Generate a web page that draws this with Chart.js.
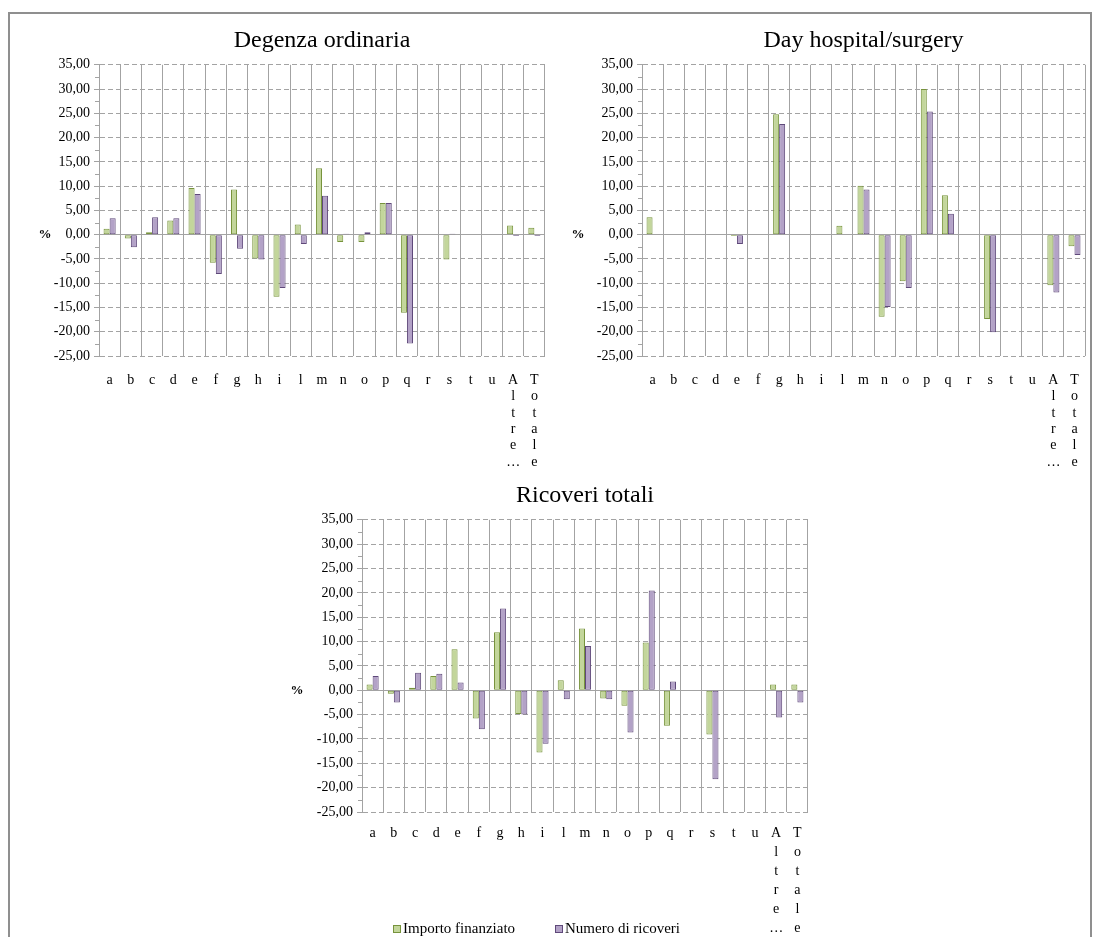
<!DOCTYPE html>
<html>
<head>
<meta charset="utf-8">
<script src="https://cdn.jsdelivr.net/npm/chart.js@4.4.0/dist/chart.umd.min.js"></script>
<style>
  html, body { margin: 0; padding: 0; background: #fff; overflow: hidden; }
  #page { position: relative; width: 1095px; height: 937px; }
  #frame { position: absolute; left: 8px; top: 12px; width: 1084px; height: 960px;
           border: 2px solid #8f8f8f; box-sizing: border-box; }
  canvas { position: absolute; left: 0; }
</style>
</head>
<body>
<div id="page">
  <div id="frame"></div>
  <canvas id="chartDegenza" width="1095" height="478" style="top:0"></canvas>
  <canvas id="chartDay" width="1095" height="478" style="top:0"></canvas>
  <canvas id="chartTotali" width="1095" height="480" style="top:470px"></canvas>
</div>
<script>
// categories (last two are written letter by letter, as in the original)
const categories = ['a', 'b', 'c', 'd', 'e', 'f', 'g', 'h', 'i', 'l', 'm', 'n', 'o', 'p', 'q', 'r', 's', 't', 'u',
  ['A', 'l', 't', 'r', 'e', '…'], ['T', 'o', 't', 'a', 'l', 'e']];

const seriesNames = ['Importo finanziato', 'Numero di ricoveri'];

// Degenza ordinaria
const degenzaImporto = [1.2, -0.8, 0.5, 2.9, 9.6, -5.8, 9.3, -4.9, -12.8, 2.1, 13.7, -1.5, -1.5, 6.5, -16.1, null, -5.1, null, null, 1.9, 1.4];
const degenzaNumero = [3.4, -2.6, 3.6, 3.4, 8.4, -8.1, -2.9, -5.1, -11.0, -1.9, 8.0, 0.2, 0.5, 6.5, -22.4, null, 0.2, null, null, -0.3, -0.3];

// Day hospital/surgery
const dayImporto = [3.6, null, null, null, -0.3, null, 24.8, null, null, 1.85, 10.1, -16.9, -9.6, 30.0, 8.1, null, -17.4, null, null, -10.4, -2.4];
const dayNumero = [null, null, null, null, -1.9, null, 22.8, null, null, null, 9.3, -14.9, -11.0, 25.4, 4.3, null, -20.1, null, null, -11.9, -4.2];

// Ricoveri totali
const totaliImporto = [1.2, -0.7, 0.5, 2.95, 8.4, -5.8, 11.9, -4.9, -12.8, 2.05, 12.7, -1.7, -3.2, 9.8, -7.3, null, -9.1, null, null, 1.2, 1.2];
const totaliNumero = [2.95, -2.5, 3.6, 3.4, 1.6, -8.0, 16.8, -5.0, -11.0, -1.85, 9.1, -1.85, -8.7, 20.5, 1.8, null, -18.3, null, null, -5.6, -2.5];

const yMin = -25;
const yMax = 35;
const yStep = 5;

const GRID = '#a3a3a3';
const SERIF = '"Liberation Serif", "Times New Roman", serif';
const GREEN = { fill: '#c3d69b', line: '#77933c' };
const PURPLE = { fill: '#b3a2c7', line: '#5f497a' };

Chart.defaults.font.family = SERIF;
Chart.defaults.font.size = 14;
Chart.defaults.color = '#000';

// "%" written horizontally next to the zero of the y axis
const percentLabel = {
  id: 'percentLabel',
  afterDraw(chart, args, opts) {
    const { ctx } = chart;
    const y = chart.scales.y;
    ctx.save();
    ctx.font = 'bold 13px ' + SERIF;
    ctx.fillStyle = '#000';
    ctx.textAlign = 'center';
    ctx.textBaseline = 'middle';
    ctx.fillText('%', opts.x, y.getPixelForValue(0));
    ctx.restore();
  }
};

// small minor ticks half way between the major ones
const minorTicks = {
  id: 'minorTicks',
  afterDraw(chart) {
    const { ctx, chartArea } = chart;
    const y = chart.scales.y;
    ctx.save();
    ctx.strokeStyle = GRID;
    ctx.lineWidth = 1;
    ctx.beginPath();
    for (let v = yMin + yStep / 2; v < yMax; v += yStep) {
      const py = Math.round(y.getPixelForValue(v)) + 0.5;
      ctx.moveTo(chartArea.left - 4, py);
      ctx.lineTo(chartArea.left, py);
    }
    ctx.stroke();
    ctx.restore();
  }
};

// legend of the bottom panel, which sits over the long x labels like in the original
const looseLegend = {
  id: 'looseLegend',
  afterDraw(chart, args, opts) {
    if (!opts.show) return;
    const { ctx } = chart;
    ctx.save();
    ctx.font = '15px ' + SERIF;
    ctx.textAlign = 'left';
    ctx.textBaseline = 'middle';
    chart.data.datasets.forEach((ds, i) => {
      const x = opts.x[i];
      const y = opts.y;
      ctx.fillStyle = ds.backgroundColor;
      ctx.fillRect(x, y - 4, 8, 8);
      ctx.strokeStyle = ds.borderColor;
      ctx.lineWidth = 1;
      ctx.strokeRect(x + 0.5, y - 3.5, 7, 7);
      ctx.fillStyle = '#000';
      ctx.fillText(ds.label, x + 10, y);
    });
    ctx.restore();
  }
};

function buildChart(canvasId, title, importo, numero, lay) {
  const ctx = document.getElementById(canvasId);
  return new Chart(ctx.getContext('2d'), {
    type: 'bar',
    data: {
      labels: categories,
      datasets: [
        {
          label: seriesNames[0],
          data: importo,
          backgroundColor: GREEN.fill,
          borderColor: GREEN.line,
          borderWidth: 1,
          borderSkipped: false,
          categoryPercentage: 0.57,
          barPercentage: 1.0,
        },
        {
          label: seriesNames[1],
          data: numero,
          backgroundColor: PURPLE.fill,
          borderColor: PURPLE.line,
          borderWidth: 1,
          borderSkipped: false,
          categoryPercentage: 0.57,
          barPercentage: 1.0,
        },
      ],
    },
    options: {
      responsive: false,
      animation: false,
      layout: { padding: lay.padding },
      plugins: {
        title: {
          display: true,
          text: title,
          fullSize: false,
          color: '#000',
          font: { family: SERIF, size: 24, weight: 'normal' },
          padding: lay.titlePadding,
        },
        legend: { display: false },
        tooltip: { enabled: false },
        percentLabel: { x: lay.percentX },
        looseLegend: lay.legend || { show: false },
      },
      scales: {
        x: {
          grid: { color: GRID, offset: true, drawTicks: false },
          border: { display: false },
          ticks: {
            autoSkip: false,
            maxRotation: 0,
            padding: lay.xPadding,
            font: { family: SERIF, size: 14, lineHeight: lay.lineHeight },
          },
          afterFit: (scale) => { scale.height = lay.xHeight; },
        },
        y: {
          min: yMin,
          max: yMax,
          ticks: {
            stepSize: yStep,
            padding: 4,
            font: { family: SERIF, size: 14 },
            callback: (value) => value.toFixed(2).replace('.', ','),
          },
          grid: { color: GRID, tickLength: 5, tickColor: GRID },
          border: {
            display: true,
            color: GRID,
            dash: (c) => (c.type === 'tick' && c.tick && c.tick.value !== 0 ? [5, 3] : []),
          },
          afterFit: (scale) => { scale.width = 60; },
        },
      },
    },
    plugins: [percentLabel, minorTicks, looseLegend],
  });
}

buildChart('chartDegenza', 'Degenza ordinaria', degenzaImporto, degenzaNumero, {
  padding: { left: 39, right: 550, top: 17, bottom: 0 },
  titlePadding: { top: 9, bottom: 10 },
  xHeight: 122,
  xPadding: 16,
  lineHeight: 1.17,
  percentX: 45,
});

buildChart('chartDay', 'Day hospital/surgery', dayImporto, dayNumero, {
  padding: { left: 582, right: 3, top: 17, bottom: 0 },
  titlePadding: { top: 9, bottom: 10 },
  xHeight: 122,
  xPadding: 16,
  lineHeight: 1.17,
  percentX: 578,
});

buildChart('chartTotali', 'Ricoveri totali', totaliImporto, totaliNumero, {
  padding: { left: 302, right: 287, top: 0, bottom: 0 },
  titlePadding: { top: 11, bottom: 10 },
  xHeight: 138,
  xPadding: 12,
  lineHeight: 1.36,
  percentX: 297,
  legend: { show: true, x: [393, 555], y: 459 },
});
</script>
</body>
</html>
